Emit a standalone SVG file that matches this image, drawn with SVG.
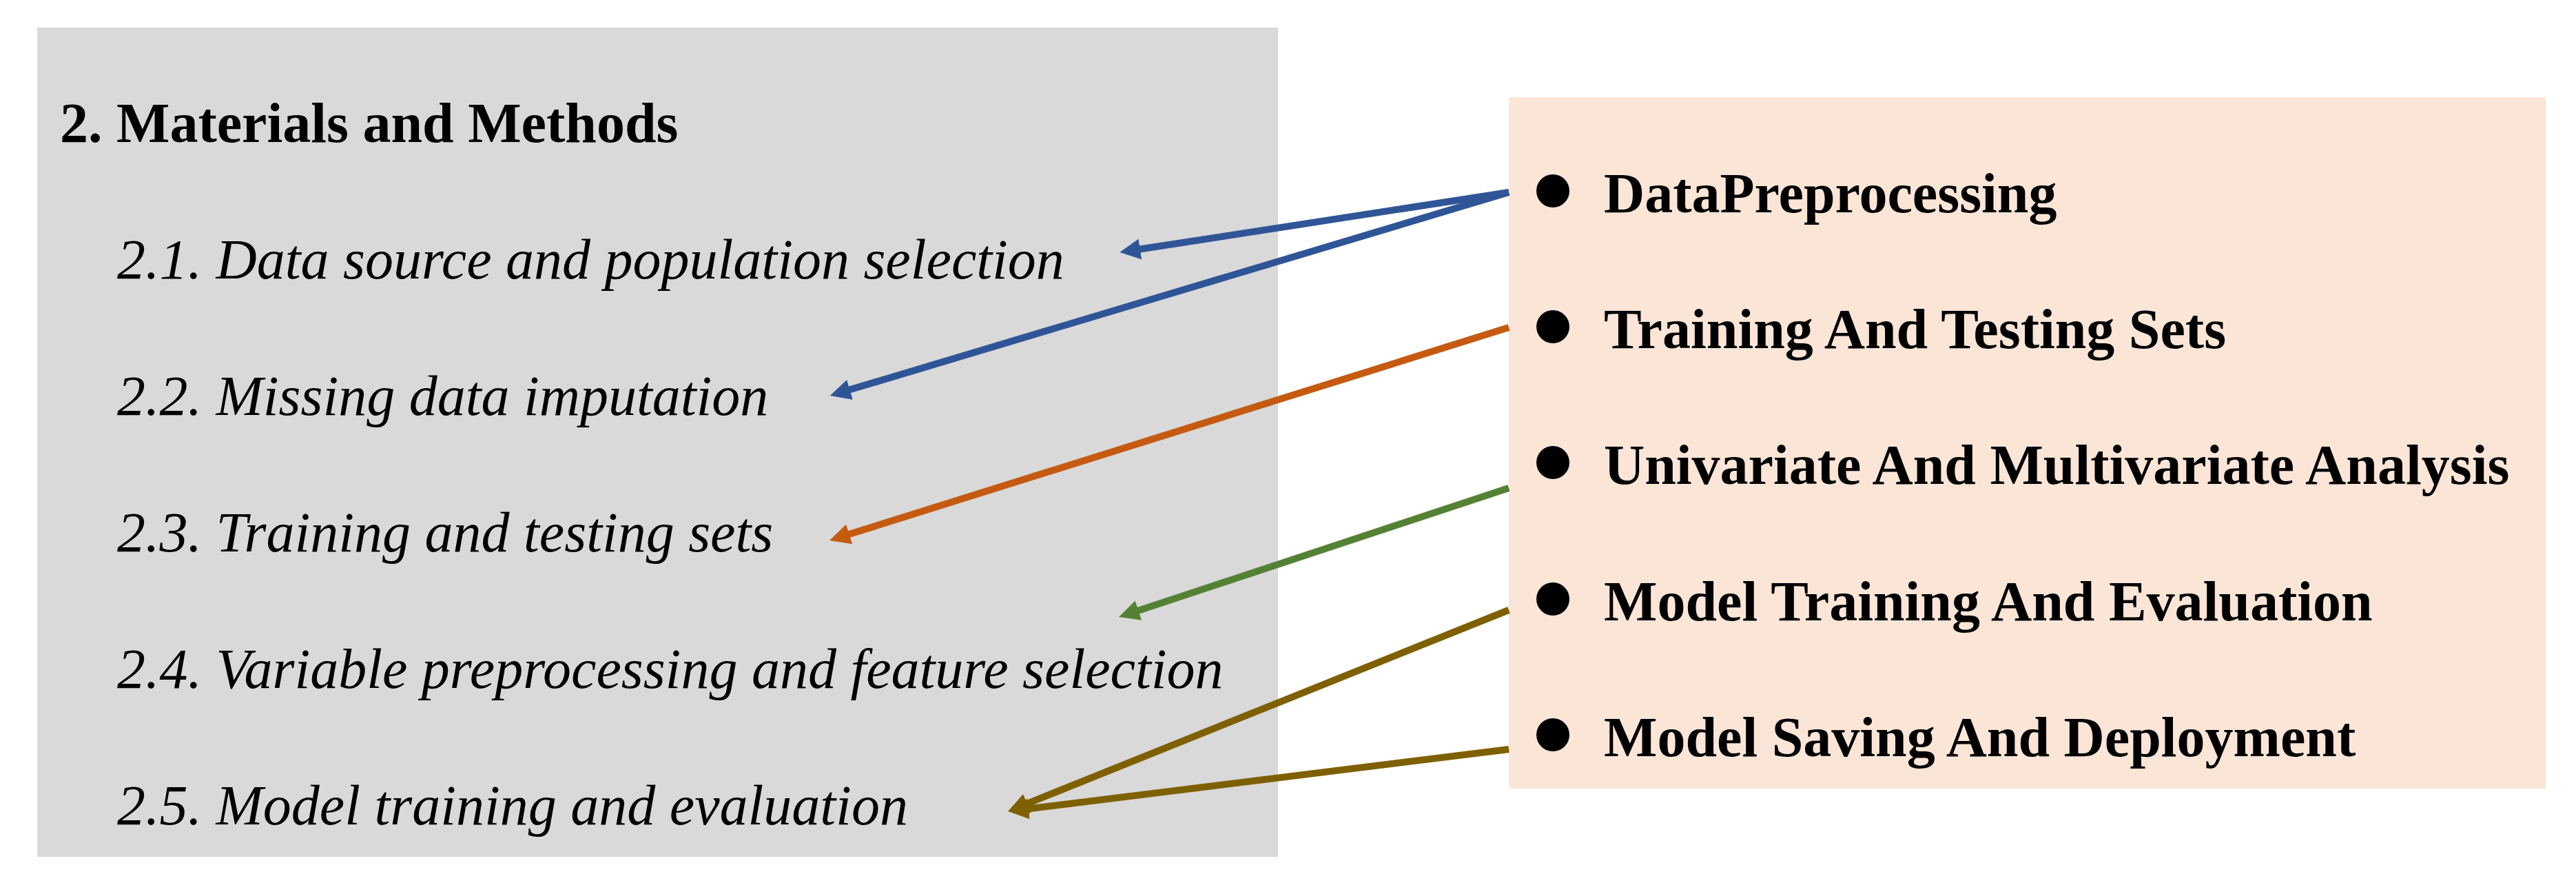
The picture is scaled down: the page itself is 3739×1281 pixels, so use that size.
<svg xmlns="http://www.w3.org/2000/svg" width="3739" height="1281" viewBox="0 0 3739 1281">
<style>
.title{font-family:"Liberation Serif","Times New Roman",serif;font-weight:bold;font-size:82px;fill:#000}
.sec{font-family:"Liberation Serif","Times New Roman",serif;font-style:italic;font-size:82px;fill:#000}
.item{font-family:"Liberation Serif","Times New Roman",serif;font-weight:bold;font-size:82px;fill:#000}
.conn{fill:none;stroke-width:10;stroke-linecap:butt}
</style>
<defs>
<marker id="ah-blue" viewBox="0 0 10 10" refX="4" refY="5" markerWidth="3" markerHeight="3" markerUnits="strokeWidth" orient="auto"><path d="M0,0 L10,5 L0,10 z" fill="#2F5597"/></marker>
<marker id="ah-orange" viewBox="0 0 10 10" refX="4" refY="5" markerWidth="3" markerHeight="3" markerUnits="strokeWidth" orient="auto"><path d="M0,0 L10,5 L0,10 z" fill="#C55A11"/></marker>
<marker id="ah-green" viewBox="0 0 10 10" refX="4" refY="5" markerWidth="3" markerHeight="3" markerUnits="strokeWidth" orient="auto"><path d="M0,0 L10,5 L0,10 z" fill="#548235"/></marker>
<marker id="ah-olive" viewBox="0 0 10 10" refX="4" refY="5" markerWidth="3" markerHeight="3" markerUnits="strokeWidth" orient="auto"><path d="M0,0 L10,5 L0,10 z" fill="#7F6000"/></marker>
</defs>
<rect width="3739" height="1281" fill="#FFFFFF"/>
<g id="methods">
<rect x="54" y="40" width="1801" height="1203" fill="#D9D9D9"/>
<text class="title" x="87" y="206">2. Materials and Methods</text>
<text class="sec" x="170" y="404">2.1. Data source and population selection</text>
<text class="sec" x="170" y="602">2.2. Missing data imputation</text>
<text class="sec" x="170" y="800">2.3. Training and testing sets</text>
<text class="sec" x="170" y="998">2.4. Variable preprocessing and feature selection</text>
<text class="sec" x="170" y="1196">2.5. Model training and evaluation</text>
</g>
<g id="steps">
<rect x="2190" y="141" width="1505" height="1003" fill="#FBE5D6"/>
<circle cx="2254" cy="277" r="24" fill="#000"/>
<text class="item" x="2328" y="308">DataPreprocessing</text>
<circle cx="2254" cy="474" r="24" fill="#000"/>
<text class="item" x="2328" y="505">Training And Testing Sets</text>
<circle cx="2254" cy="671" r="24" fill="#000"/>
<text class="item" x="2328" y="702">Univariate And Multivariate Analysis</text>
<circle cx="2254" cy="869" r="24" fill="#000"/>
<text class="item" x="2328" y="900">Model Training And Evaluation</text>
<circle cx="2254" cy="1066" r="24" fill="#000"/>
<text class="item" x="2328" y="1097">Model Saving And Deployment</text>
</g>
<g id="connectors">
<line class="conn" x1="2190" y1="279" x2="1643" y2="363.3" stroke="#2F5597" marker-end="url(#ah-blue)"/>
<line class="conn" x1="2190" y1="279" x2="1222" y2="568.8" stroke="#2F5597" marker-end="url(#ah-blue)"/>
<line class="conn" x1="2190" y1="475" x2="1221.2" y2="778.6" stroke="#C55A11" marker-end="url(#ah-orange)"/>
<line class="conn" x1="2190" y1="708" x2="1641.1" y2="889.4" stroke="#548235" marker-end="url(#ah-green)"/>
<line class="conn" x1="2190" y1="885" x2="1479.7" y2="1170.3" stroke="#7F6000" marker-end="url(#ah-olive)"/>
<line class="conn" x1="2190" y1="1087" x2="1480.9" y2="1174.8" stroke="#7F6000" marker-end="url(#ah-olive)"/>
</g>
</svg>
